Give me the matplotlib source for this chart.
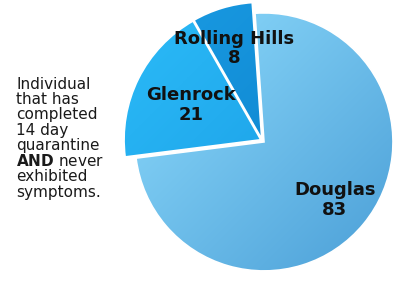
import numpy as np
import matplotlib
matplotlib.use("Agg")
import matplotlib.pyplot as plt
from matplotlib.colors import LinearSegmentedColormap

# data
towns = ["Douglas", "Glenrock", "Rolling Hills"]
counts = [83, 21, 8]
note = ("Individual\nthat has\ncompleted\n14 day\nquarantine\n"
        "$\\bf{AND}$ never\nexhibited\nsymptoms.")

# style
explode = [0.018, 0.012, 0.012]
radii = [1.0, 1.06, 1.06]
label_r = [0.71, 0.57, 0.69]
light = ["#8fdcfd", "#2cbcf8", "#1a9ce4"]
dark = ["#4b9fd7", "#1494e0", "#0a7cc6"]

fig = plt.figure(figsize=(4.13, 2.85), dpi=100)
ax = fig.add_axes([0, 0, 1, 1])

wedges, _ = ax.pie(counts, explode=explode, startangle=94, counterclock=False,
                   center=(-0.014, 0.012),
                   wedgeprops=dict(edgecolor="white", linewidth=1.2, facecolor="none"))

for w, r, c1, c2 in zip(wedges, radii, light, dark):
    w.set_radius(r)
    w.set_zorder(3)
    cx, cy = w.center
    cmap = LinearSegmentedColormap.from_list("g", [c1, c2])
    gx, gy = np.meshgrid(np.linspace(0, 1, 200), np.linspace(1, 0, 200))
    grad = (gx + (1 - gy)) / 2
    im = ax.imshow(grad, cmap=cmap, extent=[cx - r, cx + r, cy - r, cy + r],
                   zorder=2, interpolation="bilinear")
    im.set_clip_path(w)

for w, name, n, d in zip(wedges, towns, counts, label_r):
    ang = np.deg2rad((w.theta1 + w.theta2) / 2)
    x = w.center[0] + d * w.r * np.cos(ang)
    y = w.center[1] + d * w.r * np.sin(ang)
    ax.text(x, y, "%s\n%d" % (name, n), ha="center", va="center",
            fontsize=13, fontweight="bold", color="#111111",
            linespacing=1.1, zorder=5)

# pixel scale: 129 px per unit, Douglas centre at (264, 142)
ax.set_xlim(-264 / 129, (413 - 264) / 129)
ax.set_ylim(-(285 - 142) / 129, 142 / 129)
ax.set_aspect("equal")
ax.axis("off")

fig.text(16 / 413, 1 - 77 / 285, note, ha="left", va="top", fontsize=11,
         color="#1a1a1a", linespacing=1.02)

fig.savefig("out.png", dpi=100)
